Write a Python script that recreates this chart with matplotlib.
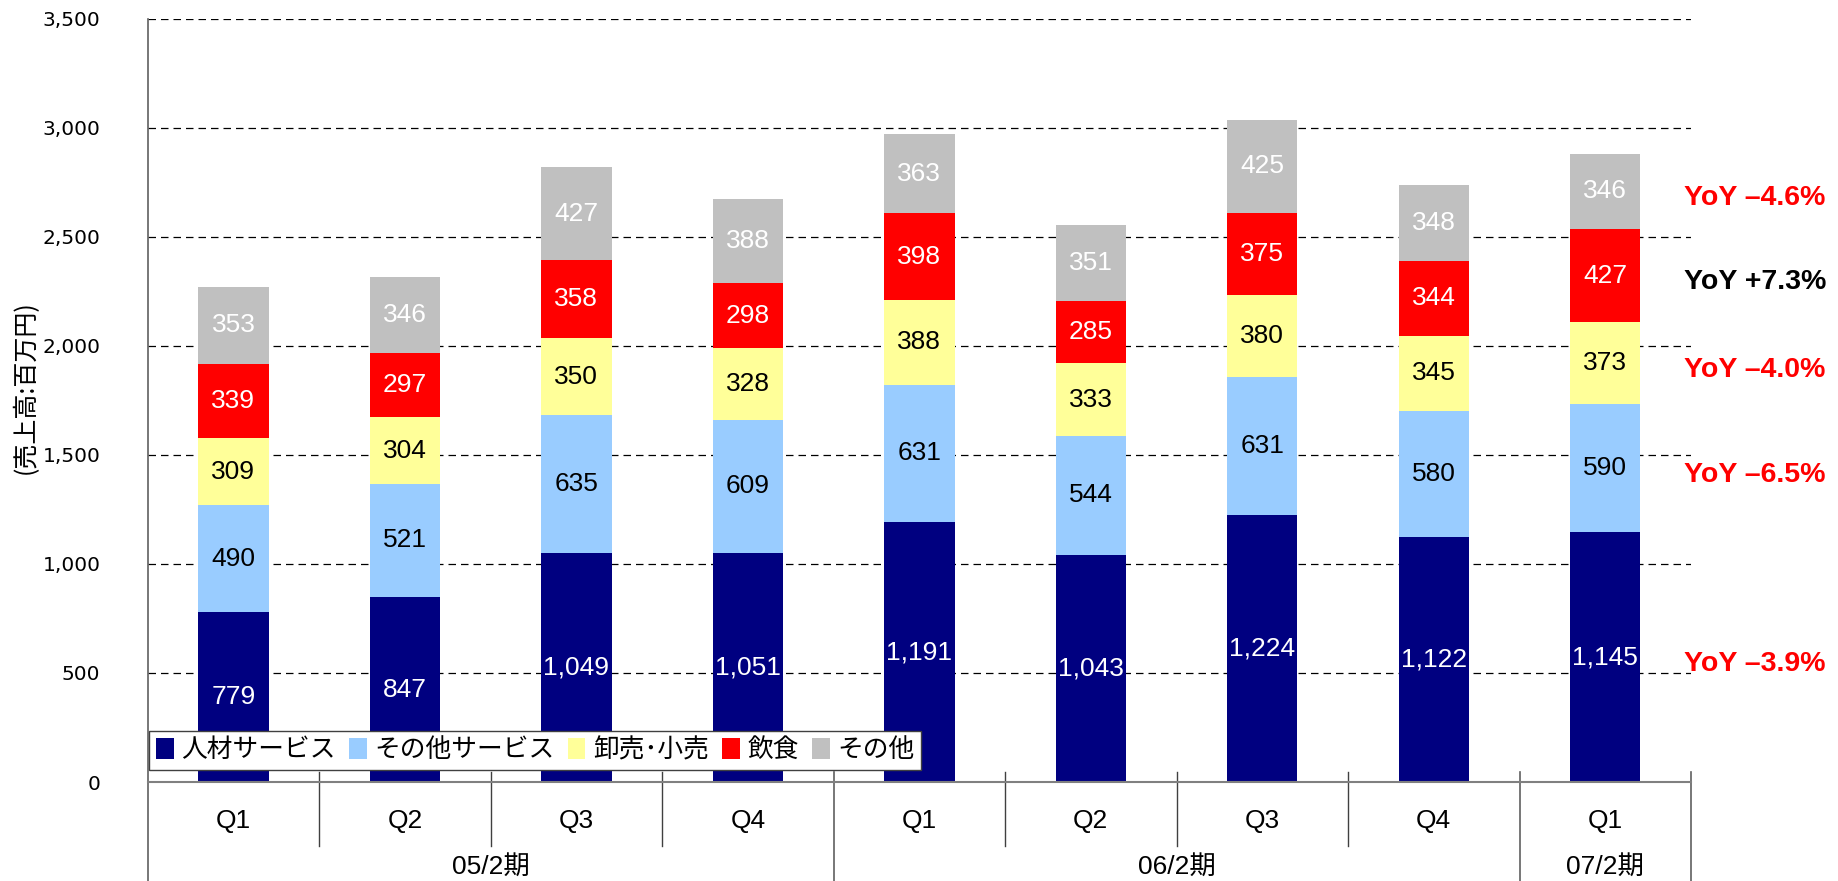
import numpy as np
import matplotlib
matplotlib.use('Agg')
import matplotlib.pyplot as plt
from matplotlib.patches import Patch
from matplotlib.ticker import FuncFormatter
from matplotlib.transforms import blended_transform_factory
from matplotlib.lines import Line2D

plt.rcParams['font.family'] = ['Liberation Sans', 'Noto Sans CJK JP']

# ---------------- data ----------------
quarters = ['Q1', 'Q2', 'Q3', 'Q4', 'Q1', 'Q2', 'Q3', 'Q4', 'Q1']
periods = ['05/2期', '06/2期', '07/2期']
period_lengths = [4, 4, 1]

series_names = ['人材サービス', 'その他サービス', '卸売･小売', '飲食', 'その他']
jinzai = [779, 847, 1049, 1051, 1191, 1043, 1224, 1122, 1145]
other_service = [490, 521, 635, 609, 631, 544, 631, 580, 590]
wholesale = [309, 304, 350, 328, 388, 333, 380, 345, 373]
food = [339, 297, 358, 298, 398, 285, 375, 344, 427]
others = [353, 346, 427, 388, 363, 351, 425, 348, 346]
series_values = [jinzai, other_service, wholesale, food, others]

yoy = [-3.9, -6.5, -4.0, 7.3, -4.6]  # per series, bottom to top

colors = ['#000080', '#99CCFF', '#FFFF99', '#FF0000', '#C0C0C0']
label_colors = ['white', 'black', 'black', 'white', 'white']

# ---------------- figure ----------------
W, H = 1838, 881
fig = plt.figure(figsize=(W / 100, H / 100), dpi=100)
ax_l, ax_r, ax_t, ax_b = 147.7, 1691, 18.75, 782
ax = fig.add_axes([ax_l / W, 1 - ax_b / H, (ax_r - ax_l) / W, (ax_b - ax_t) / H])

x = np.arange(len(quarters))
bottom = np.zeros(len(quarters))
mids_last = []
for name, vals, c, tc in zip(series_names, series_values, colors, label_colors):
    vals = np.array(vals, dtype=float)
    ax.bar(x, vals, 0.41, bottom=bottom, color=c, linewidth=0, zorder=2, label=name)
    for xi, v, b in zip(x, vals, bottom):
        ax.text(xi, b + v / 2, f'{int(v):,}', ha='center', va='center',
                color=tc, fontsize=19, zorder=3)
    mids_last.append(bottom[-1] + vals[-1] / 2)
    bottom = bottom + vals

ax.set_xlim(-0.5, len(quarters) - 0.5)
ax.set_ylim(0, 3500)
ax.set_yticks(np.arange(0, 3501, 500))
ax.yaxis.set_major_formatter(FuncFormatter(lambda v, p: f'{int(v):,}'))
ax.tick_params(axis='y', length=0, pad=34, labelsize=14.5)
for lab in ax.get_yticklabels():
    lab.set_fontfamily('DejaVu Sans')
ax.set_xticks([])
ax.yaxis.grid(True, color='black', linestyle=(0, (6, 4)), linewidth=0.9)
ax.set_axisbelow(True)

for s in ['top', 'right']:
    ax.spines[s].set_visible(False)
ax.spines['left'].set_color('#606060')
ax.spines['bottom'].set_color('#808080')
ax.spines['left'].set_linewidth(1.2)
ax.spines['bottom'].set_linewidth(1.5)

# ---------------- category axis below ----------------
trans = blended_transform_factory(ax.transData, ax.transAxes)
axh = ax_b - ax_t
def fy(py):
    return (ax_b - py) / axh

q_label_y = fy(821)
q_div_top = fy(772)
q_div_bot = fy(846)
p_label_y = fy(867)
p_div_bot = fy(881)

for xi, q in zip(x, quarters):
    ax.text(xi, q_label_y, q, transform=trans, ha='center', va='center',
            fontsize=19, clip_on=False)

period_bounds = np.cumsum([0] + period_lengths) - 0.5
for xb in np.arange(0.5, len(quarters) - 0.5, 1.0):
    if not np.any(np.isclose(xb, period_bounds)):
        ax.add_line(Line2D([xb, xb], [q_div_top, q_div_bot], transform=trans,
                           color='#404040', linewidth=1.0, clip_on=False))
for xb in period_bounds:
    ax.add_line(Line2D([xb, xb], [q_div_top if xb > -0.5 else 0, p_div_bot], transform=trans,
                       color='#606060', linewidth=1.2, clip_on=False))

for name, s, n in zip(periods, period_bounds[:-1], period_lengths):
    ax.text(s + n / 2, p_label_y, name, transform=trans, ha='center', va='center',
            fontsize=19, clip_on=False, family=['Liberation Sans', 'Noto Sans CJK JP'])

# ---------------- legend ----------------
handles = [Patch(facecolor=c, edgecolor='none', label=n) for n, c in zip(series_names, colors)]
leg = ax.legend(handles=handles, loc='lower left', bbox_to_anchor=(0.001, 0.016),
                ncol=5, frameon=True, fancybox=False, edgecolor='#404040',
                framealpha=1, handlelength=0.7, handleheight=0.9, handletextpad=0.3,
                columnspacing=0.5, borderpad=0.25, borderaxespad=0,
                prop={'family': 'Noto Sans CJK JP', 'size': 18.5})
leg.get_frame().set_linewidth(1.0)
leg.set_zorder(5)

# ---------------- YoY annotations ----------------
yoy_offset = -30
for v, ym in zip(yoy, mids_last):
    txt = f'YoY +{v:.1f}%' if v > 0 else f'YoY \u2013{abs(v):.1f}%'
    ax.text(1.0415, ym + yoy_offset, txt,
            transform=blended_transform_factory(ax.transAxes, ax.transData),
            ha='center', va='center', fontsize=20.5, fontweight='bold',
            color='black' if v > 0 else '#FF0000', clip_on=False)

# ---------------- y label ----------------
fig.text(26 / W, 1 - 387 / H, '(売上高:百万円)', rotation=90, ha='center', va='center',
         fontsize=18, family=['Noto Sans CJK JP', 'DejaVu Sans'])

fig.savefig('out.png', dpi=100)
